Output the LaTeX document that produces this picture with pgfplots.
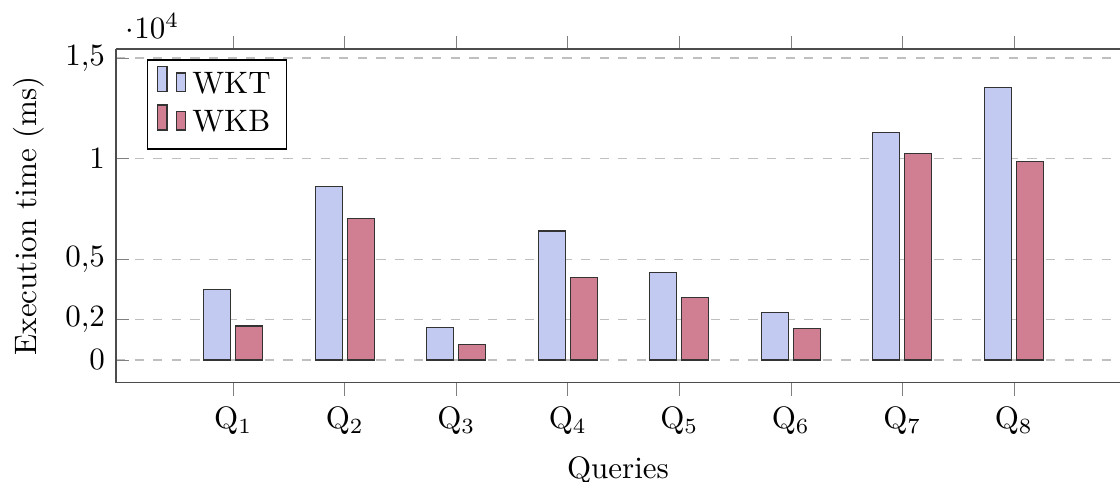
\documentclass[border=0pt]{standalone}
\usepackage{pgfplots}
\pgfplotsset{compat=1.18}
\definecolor{wkt}{HTML}{C2CAF2}
\definecolor{wkb}{HTML}{D07E91}
\begin{document}
\begin{tikzpicture}
\begin{axis}[
    width=323.9pt, height=107.7pt, scale only axis,
    ybar=1.6pt, bar width=8.7pt,
    xmin=-0.052, xmax=8.952,
    ymin=-1140, ymax=15450,
    xtick={1,2,3,4,5,6,7,8},
    xticklabels={Q$_1$,Q$_2$,Q$_3$,Q$_4$,Q$_5$,Q$_6$,Q$_7$,Q$_8$},
    xtick align=outside,
    ytick={0,2000,5000,10000,15000},
    /pgf/number format/use comma,
    axis y line*=left,
    axis line style={black!70},
    tick style={black!50},
    ymajorgrids, grid style={dashed, black!25},
    xlabel={Queries},
    ylabel={Execution time (ms)},
    legend style={at={(0.031,0.969)}, anchor=north west, legend cell align=left},
]
    % WKT
    \addplot[fill=wkt, draw=black!80] coordinates {(1,3480) (2,8610) (3,1610) (4,6410) (5,4350) (6,2370) (7,11310) (8,13540)};
    % WKB
    \addplot[fill=wkb, draw=black!80] coordinates {(1,1690) (2,7040) (3,780) (4,4110) (5,3100) (6,1570) (7,10250) (8,9870)};
    \legend{WKT, WKB}
\end{axis}
\pgfresetboundingbox
\path ([xshift=-37.4pt,yshift=-31.9pt]current axis.south west) rectangle ([yshift=15.8pt]current axis.north east);
\end{tikzpicture}
\end{document}
